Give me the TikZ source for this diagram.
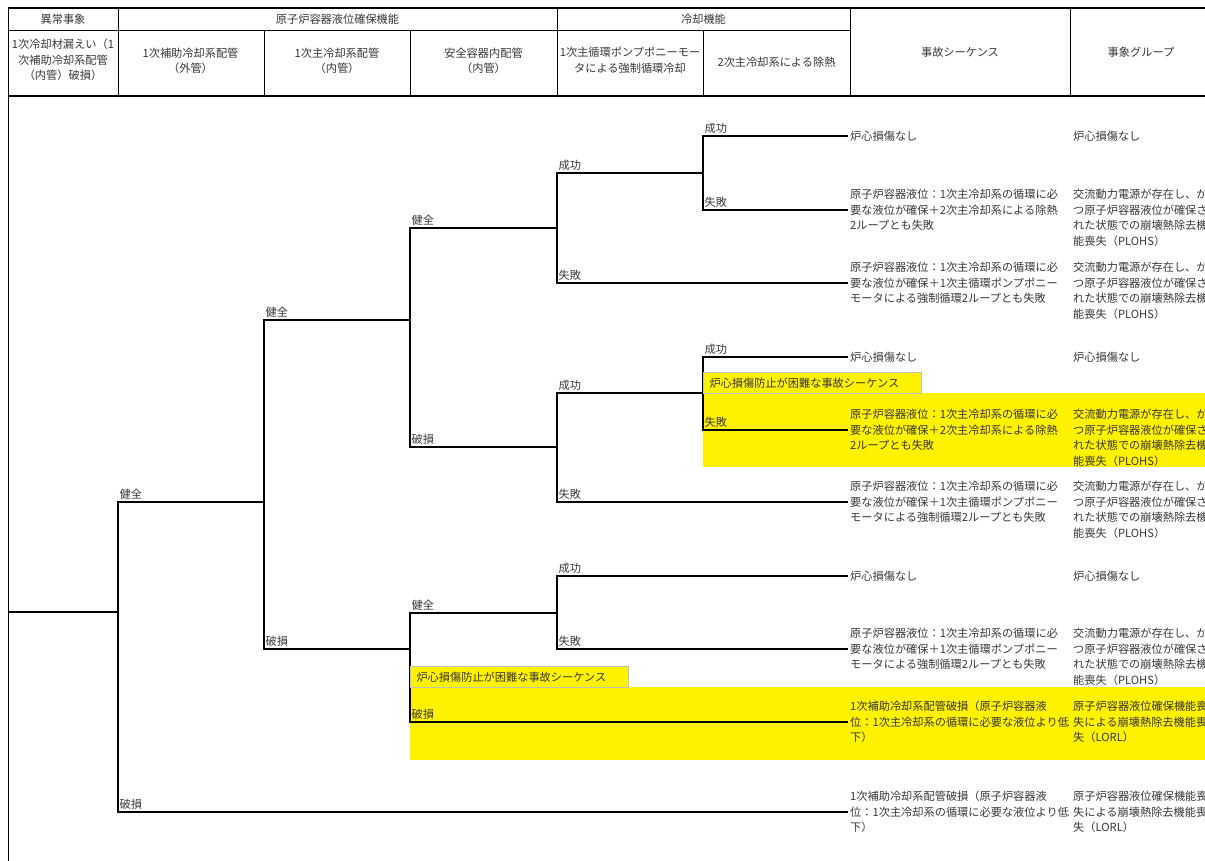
\documentclass[tikz,border=0pt]{standalone}
\usepackage{fontspec}
\setmainfont{Noto Sans CJK JP}
\newcommand{\mySeqA}{原子炉容器液位：1次主冷却系の循環に必\\要な液位が確保＋2次主冷却系による除熱\\2ループとも失敗}
\newcommand{\mySeqP}{原子炉容器液位：1次主冷却系の循環に必\\要な液位が確保＋1次主循環ポンプポニー\\モータによる強制循環2ループとも失敗}
\newcommand{\mySeqL}{1次補助冷却系配管破損（原子炉容器液\\位：1次主冷却系の循環に必要な液位より低\\下）}
\newcommand{\myGrpP}{交流動力電源が存在し、か\\つ原子炉容器液位が確保さ\\れた状態での崩壊熱除去機\\能喪失（PLOHS）}
\newcommand{\myGrpL}{原子炉容器液位確保機能喪\\失による崩壊熱除去機能喪\\失（LORL）}
\newcommand{\myNoDmg}{炉心損傷なし}
\newcommand{\myNote}{炉心損傷防止が困難な事故シーケンス}
\begin{document}
\begin{tikzpicture}[x=1pt,y=-1pt,
  txt/.style={font=\fontsize{11.2}{15.5}\selectfont, text=black!78, inner xsep=2pt, inner ysep=0pt},
  hdr/.style={txt, align=center},
  seq/.style={txt, align=left, anchor=west},
  grp/.style={txt, align=left, anchor=north west},
  lbl/.style={txt, anchor=south west, inner xsep=1.5pt, inner ysep=2pt},
  branch/.style={draw=black, line width=1.3pt},
  thinline/.style={draw=black, line width=0.9pt},
  thickline/.style={draw=black, line width=2pt},
  hl/.style={fill=yellow},
  note/.style={txt, fill=yellow, draw=black!25, line width=1pt, anchor=north west,
    text width=206pt, minimum height=21pt, inner xsep=6pt, align=left}
]
\useasboundingbox (0,0) rectangle (1205,861);
\clip (0,0) rectangle (1205,861);
\fill[white] (0,0) rectangle (1205,861);

% highlighted areas
\fill[hl] (703,393) rectangle (1205,467);
\fill[hl] (410,687) rectangle (1205,760);

% header grid
\draw[thickline] (8,8) -- (1205,8);
\draw[thickline] (8,96) -- (1205,96);
\draw[thinline] (8,8) -- (8,861);
\draw[thinline] (8,30) -- (850,30);
\foreach \xx in {118,557,850,1070} \draw[thinline] (\xx,8) -- (\xx,96);
\foreach \xx in {264,410,703} \draw[thinline] (\xx,30) -- (\xx,96);

% header texts
\node[hdr] (h1) at (63,19) {異常事象};
\node[hdr] (h2) at (337.5,19) {原子炉容器液位確保機能};
\node[hdr] (h3) at (703.5,19) {冷却機能};
\node[hdr] (h4) at (960,52) {事故シーケンス};
\node[hdr] (h5) at (1141,52) {事象グループ};
\node[hdr] (h6) at (63,60) {1次冷却材漏えい（1\\次補助冷却系配管\\（内管）破損）};
\node[hdr] (h7) at (190.5,61) {1次補助冷却系配管\\（外管）};
\node[hdr] (h8) at (337,61) {1次主冷却系配管\\（内管）};
\node[hdr] (h9) at (483.5,61) {安全容器内配管\\（内管）};
\node[hdr] (h10) at (630,60) {1次主循環ポンプポニーモー\\タによる強制循環冷却};
\node[hdr] (h11) at (776.5,62) {2次主冷却系による除熱};

% junctions
\coordinate (j0) at (8,612);
\coordinate (j1) at (118,612);
\coordinate (j2) at (264,502);
\coordinate (j3a) at (410,320);
\coordinate (j3b) at (410,649);
\coordinate (j4a) at (557,228);
\coordinate (j4b) at (557,447);
\coordinate (j4c) at (557,613);
\coordinate (j5a) at (703,173);
\coordinate (j5b) at (703,393);
\coordinate (gx) at (1071,0);

% sequence end nodes
\node[seq] (s1) at (848,136) {\myNoDmg};
\node[seq] (s2) at (848,210) {\mySeqA};
\node[seq] (s3) at (848,283) {\mySeqP};
\node[seq] (s4) at (848,357) {\myNoDmg};
\node[seq] (s5) at (848,430) {\mySeqA};
\node[seq] (s6) at (848,502) {\mySeqP};
\node[seq] (s7) at (848,576) {\myNoDmg};
\node[seq] (s8) at (848,649) {\mySeqP};
\node[seq] (s9) at (848,722) {\mySeqL};
\node[seq] (s10) at (848,812) {\mySeqL};

% event groups
\node[grp, anchor=west] (g1) at (s1.west -| gx) {\myNoDmg};
\node[grp] (g2) at (s2.north -| gx) {\myGrpP};
\node[grp] (g3) at (s3.north -| gx) {\myGrpP};
\node[grp, anchor=west] (g4) at (s4.west -| gx) {\myNoDmg};
\node[grp] (g5) at (s5.north -| gx) {\myGrpP};
\node[grp] (g6) at (s6.north -| gx) {\myGrpP};
\node[grp, anchor=west] (g7) at (s7.west -| gx) {\myNoDmg};
\node[grp] (g8) at (s8.north -| gx) {\myGrpP};
\node[grp] (g9) at (s9.north -| gx) {\myGrpL};
\node[grp] (g10) at (s10.north -| gx) {\myGrpL};

% tree branches
\draw[branch] (j0) -- (j1);
\draw[branch] (j1) |- (j2);
\draw[branch] (j1) |- (s10.west);
\draw[branch] (j2) |- (j3a);
\draw[branch] (j2) |- (j3b);
\draw[branch] (j3a) |- (j4a);
\draw[branch] (j3a) |- (j4b);
\draw[branch] (j3b) |- (j4c);
\draw[branch] (j3b) |- (s9.west);
\draw[branch] (j4a) |- (j5a);
\draw[branch] (j4a) |- (s3.west);
\draw[branch] (j4b) |- (j5b);
\draw[branch] (j4b) |- (s6.west);
\draw[branch] (j4c) |- (s7.west);
\draw[branch] (j4c) |- (s8.west);
\draw[branch] (j5a) |- (s1.west);
\draw[branch] (j5a) |- (s2.west);
\draw[branch] (j5b) |- (s4.west);
\draw[branch] (j5b) |- (s5.west);

% branch labels
\node[lbl] (l1) at (118,502) {健全};
\node[lbl] (l2) at (118,812) {破損};
\node[lbl] (l3) at (264,320) {健全};
\node[lbl] (l4) at (264,649) {破損};
\node[lbl] (l5) at (410,228) {健全};
\node[lbl] (l6) at (410,447) {破損};
\node[lbl] (l7) at (410,613) {健全};
\node[lbl] (l8) at (410,722) {破損};
\node[lbl] (l9) at (557,173) {成功};
\node[lbl] (l10) at (557,283) {失敗};
\node[lbl] (l11) at (557,393) {成功};
\node[lbl] (l12) at (557,502) {失敗};
\node[lbl] (l13) at (557,576) {成功};
\node[lbl] (l14) at (557,649) {失敗};
\node[lbl] (l15) at (703,136) {成功};
\node[lbl] (l16) at (703,210) {失敗};
\node[lbl] (l17) at (703,357) {成功};
\node[lbl] (l18) at (703,430) {失敗};

% notes
\node[note] (n1) at (703,372) {\myNote};
\node[note] (n2) at (410,666) {\myNote};
\end{tikzpicture}
\end{document}
